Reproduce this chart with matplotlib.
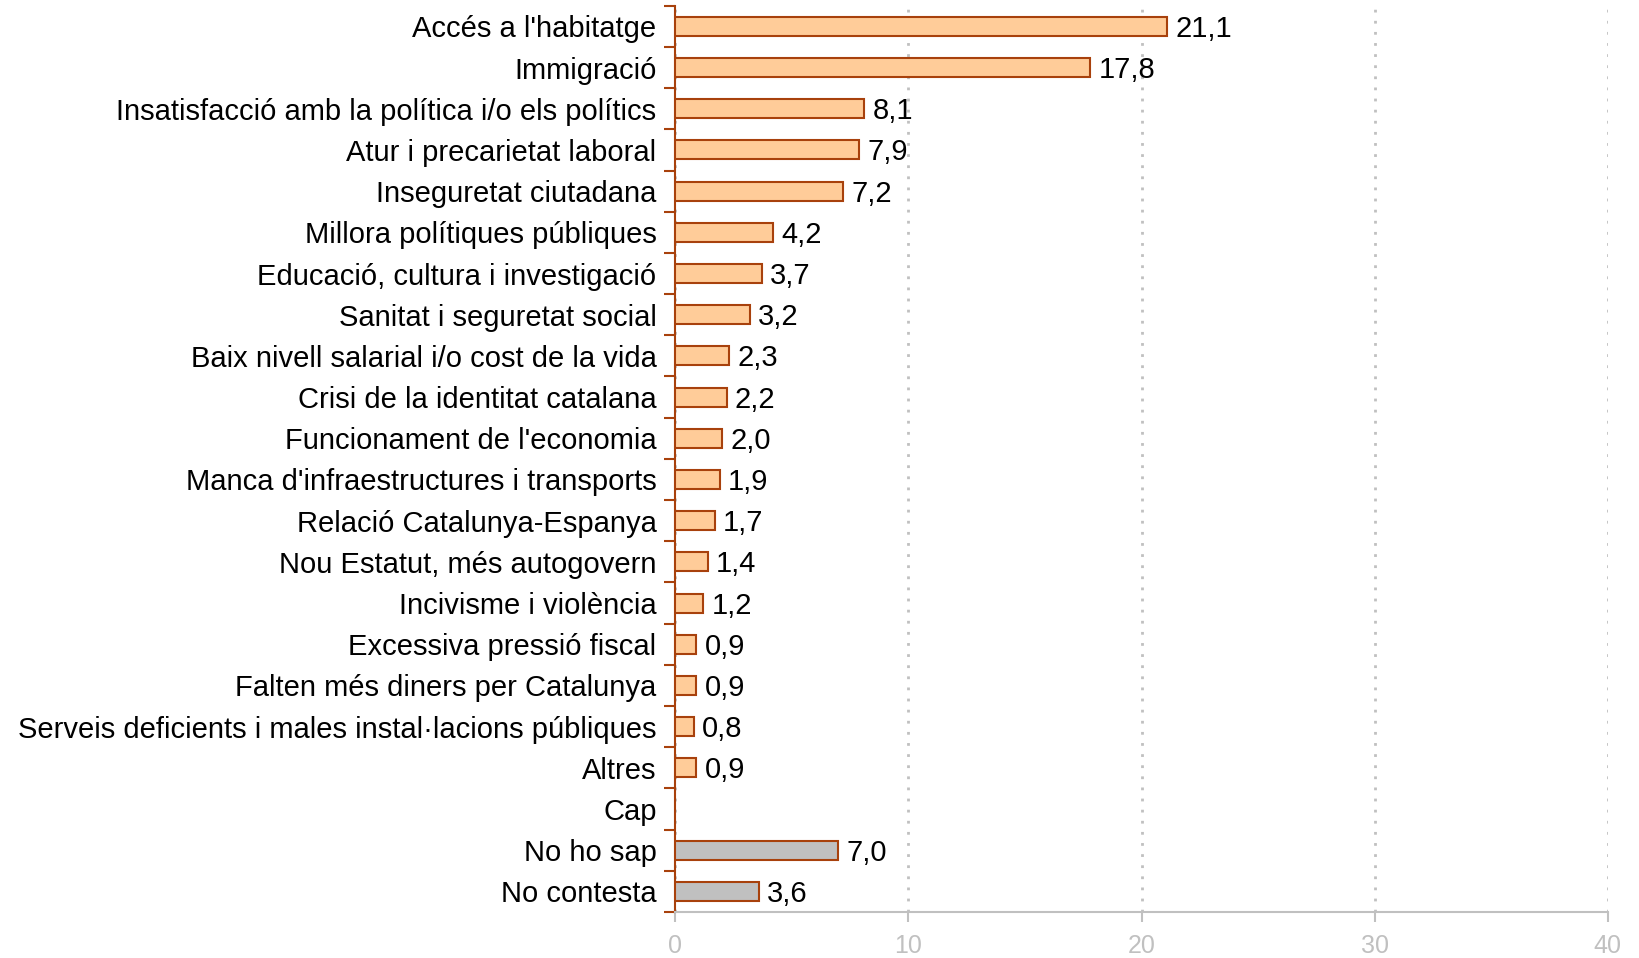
import matplotlib.pyplot as plt
import numpy as np

plt.rcParams['font.family'] = ['Liberation Sans', 'DejaVu Sans']

categories = [
    "Accés a l'habitatge",
    "Immigració",
    "Insatisfacció amb la política i/o els polítics",
    "Atur i precarietat laboral",
    "Inseguretat ciutadana",
    "Millora polítiques públiques",
    "Educació, cultura i investigació",
    "Sanitat i seguretat social",
    "Baix nivell salarial i/o cost de la vida",
    "Crisi de la identitat catalana",
    "Funcionament de l'economia",
    "Manca d'infraestructures i transports",
    "Relació Catalunya-Espanya",
    "Nou Estatut, més autogovern",
    "Incivisme i violència",
    "Excessiva pressió fiscal",
    "Falten més diners per Catalunya",
    "Serveis deficients i males instal·lacions públiques",
    "Altres",
    "Cap",
    "No ho sap",
    "No contesta",
]
values = [21.1, 17.8, 8.1, 7.9, 7.2, 4.2, 3.7, 3.2, 2.3, 2.2, 2.0, 1.9, 1.7,
          1.4, 1.2, 0.9, 0.9, 0.8, 0.9, None, 7.0, 3.6]
grey_cats = ["No ho sap", "No contesta"]

edge = '#A8410C'
fig = plt.figure(figsize=(16.39, 9.58), dpi=100)
ax = fig.add_axes([0.412, 0.048, 0.569, 0.946])

y = np.arange(len(categories))
for i, (cat, v) in enumerate(zip(categories, values)):
    if v is None:
        continue
    fc = '#C0C0C0' if cat in grey_cats else '#FFCC99'
    ax.barh(i, v, height=0.46, color=fc, edgecolor=edge, linewidth=1.5, zorder=3)
    ax.text(v + 0.35, i + 0.06, f"{v:.1f}".replace('.', ','), va='center', ha='left',
            fontsize=21, color='black', zorder=4)

ax.set_ylim(len(categories) - 0.5, -0.5)
ax.set_xlim(0, 40)
ax.set_xticks([0, 10, 20, 30, 40])
ax.set_yticks(y)
ax.set_yticklabels(categories, fontsize=21)
ax.set_yticks(np.arange(-0.5, len(categories), 1), minor=True)
ax.tick_params(axis='y', which='major', length=0, pad=13.5)
ax.tick_params(axis='y', which='minor', length=8, width=1.5, color=edge)
ax.tick_params(axis='x', length=7, width=1.5, color='#C0C0C0', labelcolor='#C0C0C0',
               labelsize=18, pad=9)

ax.xaxis.grid(True, linestyle=(0, (1, 3)), color='#C0C0C0', linewidth=2, zorder=0)
for s in ['top', 'right']:
    ax.spines[s].set_visible(False)
ax.spines['left'].set_color(edge)
ax.spines['left'].set_linewidth(1.5)
ax.spines['bottom'].set_color('#C0C0C0')
ax.spines['bottom'].set_linewidth(1.5)

fig.savefig('out.png', dpi=100)
